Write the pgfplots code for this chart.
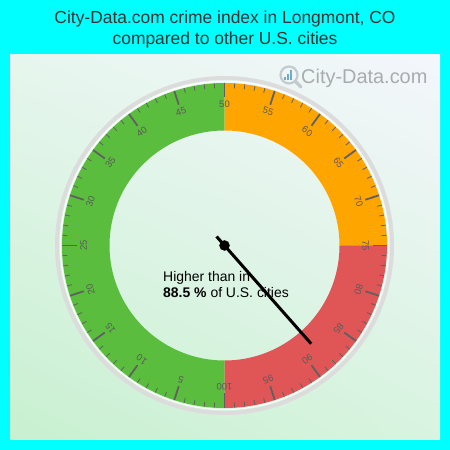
\documentclass[border=0pt]{standalone}
\usepackage{pgfplots}
\pgfplotsset{compat=1.18}
\usepackage{fontspec}
\setmainfont{Liberation Sans}
\usetikzlibrary{shadings}

\definecolor{bgcyan}{HTML}{00FFFF}
\definecolor{titlegray}{HTML}{333333}
\definecolor{gaugeGreen}{HTML}{5BBD3D}
\definecolor{gaugeOrange}{HTML}{FFA500}
\definecolor{gaugeRed}{HTML}{E05656}
\definecolor{tickgray}{HTML}{606060}
\definecolor{labelgray}{HTML}{5A5A5A}
\definecolor{ringgray}{HTML}{DCDCDC}
\definecolor{wmGray}{HTML}{A9ACAF}
\definecolor{iconGray}{HTML}{C3CBD0}
\definecolor{iconBlue}{HTML}{73AACB}
\definecolor{panelLL}{RGB}{200,240,208}
\definecolor{panelLR}{RGB}{216,244,224}
\definecolor{panelUL}{RGB}{230,246,238}
\definecolor{panelUR}{RGB}{244,246,252}

\begin{document}
\begin{tikzpicture}[x=1bp,y=1bp]
% page background and panel
\fill[bgcyan] (0,0) rectangle (450,450);
\shade[lower left=panelLL, lower right=panelLR, upper left=panelUL, upper right=panelUR]
  (10,10) rectangle (440,395);

% title
\node[anchor=base, text=titlegray, font=\fontsize{17.5}{21}\selectfont, inner sep=0]
  at (225,426) {City-Data.com crime index in Longmont, CO};
\node[anchor=base, text=titlegray, font=\fontsize{17.5}{21}\selectfont, inner sep=0]
  at (225,405) {compared to other U.S. cities};

% watermark
\fill[iconBlue] (283.5,370) rectangle (285.5,373);
\fill[iconBlue] (286.8,370) rectangle (288.8,376);
\fill[iconBlue] (290.1,370) rectangle (292.1,379.5);
\draw[iconGray, line width=2.2] (289,375) circle[radius=8.5];
\draw[iconGray, line width=3.5, line cap=round] (295.5,368.5) -- (301,363);
\node[anchor=base west, text=wmGray, font=\fontsize{20}{20}\selectfont, inner sep=0]
  at (301,366) {City-Data.com};

% gauge dial
\begin{scope}[shift={(224.5,204.5)}]
  \draw[ringgray, line width=4] (0,0) circle[radius=167.5];
  \draw[white, line width=1.2] (0,0) circle[radius=164];
  \foreach \va/\vb/\col in {0/50/gaugeGreen,50/75/gaugeOrange,75/100/gaugeRed}{
    \pgfmathsetmacro\aa{-90-3.6*\va}
    \pgfmathsetmacro\ab{-90-3.6*\vb}
    \fill[\col] (\aa:162.5) arc[start angle=\aa, end angle=\ab, radius=162.5]
      -- (\ab:115) arc[start angle=\ab, end angle=\aa, radius=115] -- cycle;
  }
  \foreach \i in {0,...,99}{
    \pgfmathsetmacro\a{-90-3.6*\i}
    \pgfmathtruncatemacro\m{mod(\i,5)}
    \ifnum\m=0
      \draw[tickgray, line width=1.8] (\a:162.5) -- (\a:148);
    \else
      \draw[tickgray, line width=0.8] (\a:162.5) -- (\a:157.5);
    \fi
  }
  \foreach \v in {5,10,...,100}{
    \pgfmathsetmacro\a{-90-3.6*\v}
    \node[rotate=\a-90, text=labelgray, font=\fontsize{9.5}{9.5}\selectfont, inner sep=0]
      at (\a:141) {\v};
  }
\end{scope}

% needle: value 88.5 on a 0-100 dial, 0 at the bottom, clockwise
\begin{axis}[at={(0,0)}, anchor=south west, scale only axis,
  width=450bp, height=450bp,
  xmin=-224.5, xmax=225.5, ymin=-204.5, ymax=245.5,
  hide axis, clip=false]
\addplot[black, line width=3bp, data cs=polar]
  table[x expr={-90-3.6*\thisrow{value}}, y=radius] {
value radius
88.5 -12
88.5 131
};
\addplot[only marks, mark=*, mark size=5bp, black, data cs=polar]
  coordinates {(0,0)};
\end{axis}

% caption inside the dial
\node[anchor=base west, font=\fontsize{14}{16}\selectfont, inner sep=0]
  at (163,168.3) {Higher than in};
\node[anchor=base west, font=\fontsize{14}{16}\selectfont, inner sep=0]
  at (163,152) {\textbf{88.5 \%} of U.S. cities};
\end{tikzpicture}
\end{document}
